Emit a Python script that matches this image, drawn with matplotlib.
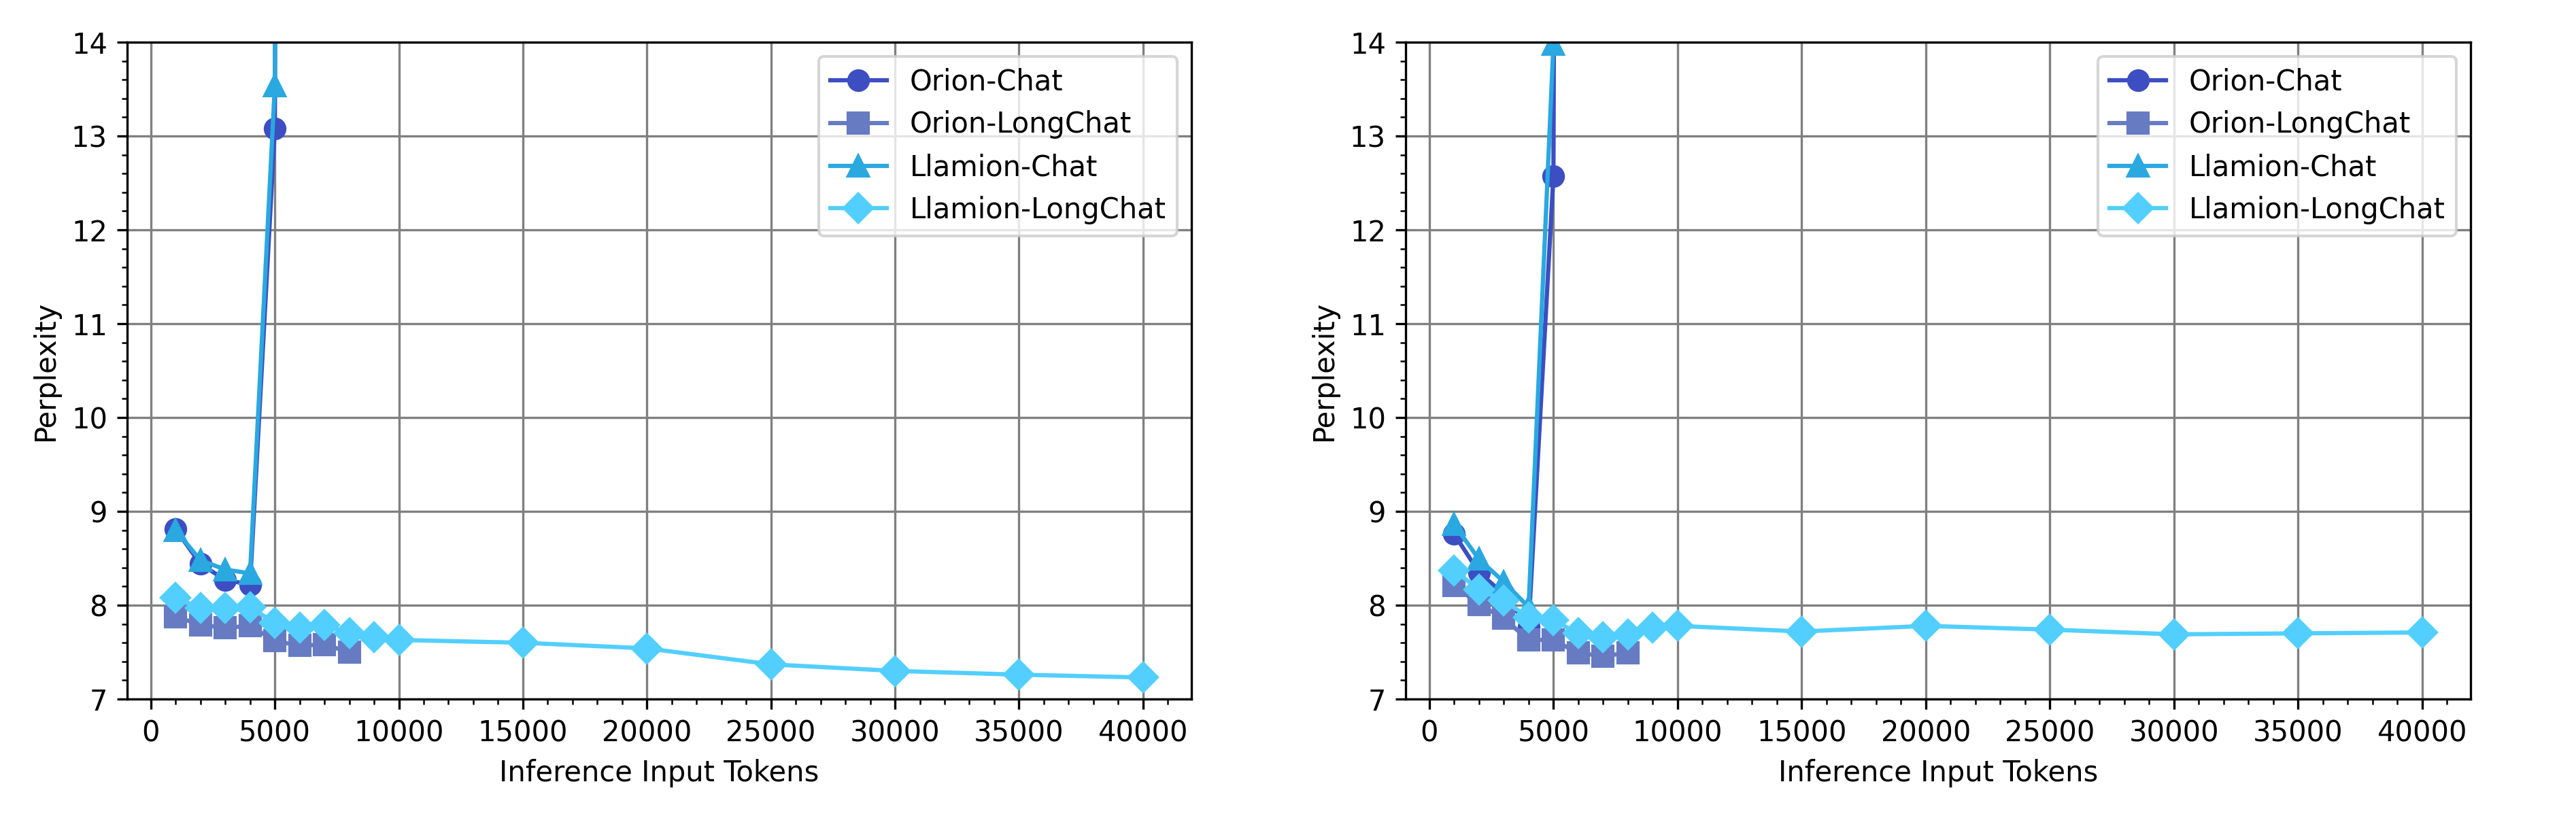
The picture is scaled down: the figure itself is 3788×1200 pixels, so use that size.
import numpy as np
import matplotlib
matplotlib.use("Agg")
import matplotlib.pyplot as plt

# x positions (inference input tokens)
tokens_chat = [1000, 2000, 3000, 4000, 5000, 6000]
tokens_orion_long = [1000, 2000, 3000, 4000, 5000, 6000, 7000, 8000]
tokens_llamion_long = [1000, 2000, 3000, 4000, 5000, 6000, 7000, 8000, 9000, 10000,
                       15000, 20000, 25000, 30000, 35000, 40000]

# left panel perplexities
orion_chat_left = [8.81, 8.44, 8.27, 8.22, 13.08, 95.0]
orion_long_left = [7.88, 7.79, 7.76, 7.78, 7.62, 7.57, 7.58, 7.50]
llamion_chat_left = [8.80, 8.48, 8.38, 8.34, 13.54, 110.0]
llamion_long_left = [8.08, 7.97, 7.97, 7.98, 7.81, 7.76, 7.79, 7.70, 7.66, 7.63,
                     7.60, 7.54, 7.37, 7.30, 7.26, 7.23]

# right panel perplexities
orion_chat_right = [8.76, 8.35, 8.12, 7.77, 12.57, 90.0]
orion_long_right = [8.21, 8.01, 7.86, 7.63, 7.63, 7.49, 7.46, 7.49]
llamion_chat_right = [8.86, 8.49, 8.25, 7.98, 13.98, 100.0]
llamion_long_right = [8.37, 8.17, 8.05, 7.87, 7.84, 7.70, 7.66, 7.69, 7.76, 7.78,
                      7.72, 7.78, 7.74, 7.69, 7.70, 7.71]

labels = ["Orion-Chat", "Orion-LongChat", "Llamion-Chat", "Llamion-LongChat"]
colors = ["#3c4ec2", "#677bc2", "#2aa8e0", "#52cffe"]
markers = ["o", "s", "^", "D"]


def draw_panel(ax, series):
    xs = [tokens_chat, tokens_orion_long, tokens_chat, tokens_llamion_long]
    for x, y, lab, c, m in zip(xs, series, labels, colors, markers):
        ax.plot(x, y, marker=m, color=c, label=lab, linewidth=1.5, markersize=7)
    ax.set_ylim(7, 14)
    ax.set_xlabel("Inference Input Tokens")
    ax.set_ylabel("Perplexity")
    ax.minorticks_on()
    ax.grid(True, which="major", color="gray", linewidth=0.8)
    ax.legend(loc="upper right")


fig = plt.figure(figsize=(3788 / 300, 1200 / 300), dpi=300)
bottom, height = 0.1433, 0.9483 - 0.1433
ax1 = fig.add_axes([0.0494, bottom, 0.4625 - 0.0494, height])
ax2 = fig.add_axes([0.5457, bottom, 0.9591 - 0.5457, height])

draw_panel(ax1, [orion_chat_left, orion_long_left, llamion_chat_left, llamion_long_left])
draw_panel(ax2, [orion_chat_right, orion_long_right, llamion_chat_right, llamion_long_right])

fig.savefig("out.png", dpi=300)
plt.close(fig)
